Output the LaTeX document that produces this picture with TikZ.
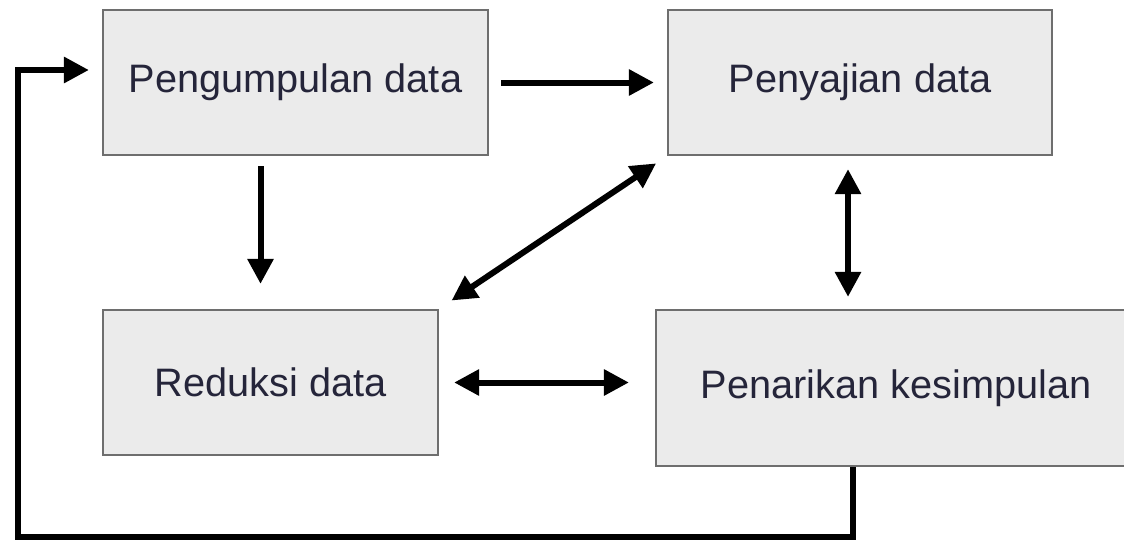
\documentclass[tikz,border=0pt]{standalone}
\usepackage{fontspec}
\setmainfont{Liberation Sans}
\usetikzlibrary{arrows.meta}
\definecolor{boxfill}{HTML}{EBEBEB}
\definecolor{boxline}{HTML}{6E6E6E}
\definecolor{txt}{HTML}{25253A}
\begin{document}
\begin{tikzpicture}[x=0.02cm, y=-0.02cm,
    box/.style={draw=boxline, line width=1.3pt, fill=boxfill, text=txt,
        font=\fontsize{22.6}{26}\selectfont, inner sep=0pt},
    arr/.style={line width=0.12cm, -{Triangle[length=0.5cm, width=0.5cm]}},
    darr/.style={line width=0.12cm, {Triangle[length=0.5cm, width=0.5cm]}-{Triangle[length=0.5cm, width=0.5cm]}}]
    \useasboundingbox (0,0) rectangle (1124,541);

    \node[box, minimum width=7.7cm, minimum height=2.9cm] (kumpul) at (295.5,82.5) {Pengumpulan data};
    \node[box, minimum width=7.68cm, minimum height=2.9cm] (saji) at (860,82.5) {Penyajian data};
    \node[box, minimum width=6.7cm, minimum height=2.9cm] (reduksi) at (270.5,382.5) {Reduksi data};
    \node[box, minimum width=9.6cm, minimum height=3.12cm] (tarik) at (896,388) {Penarikan kesimpulan};

    \coordinate (balik) at (18,537);

    \draw[arr, shorten <=0.24cm, shorten >=0.26cm] (kumpul.east) -- (kumpul.east -| saji.west);
    \draw[arr, shorten <=0.2cm, shorten >=0.5cm] ([xshift=-0.7cm]kumpul.south) -- ([xshift=-0.7cm]kumpul.south |- reduksi.north);
    \draw[darr, shorten <=0.3cm, shorten >=0.26cm] (reduksi.north east) -- (saji.south west);
    \draw[darr, shorten <=0.26cm, shorten >=0.24cm] ([xshift=-0.24cm]saji.south) -- ([xshift=-0.24cm]saji.south |- tarik.north);
    \draw[darr, shorten <=0.3cm, shorten >=0.52cm] (reduksi.east) -- (reduksi.east -| tarik.west);
    \draw[arr, shorten >=0.26cm] ([xshift=-0.86cm]tarik.south) |- (balik) |- ([yshift=0.25cm]kumpul.west);
\end{tikzpicture}
\end{document}
